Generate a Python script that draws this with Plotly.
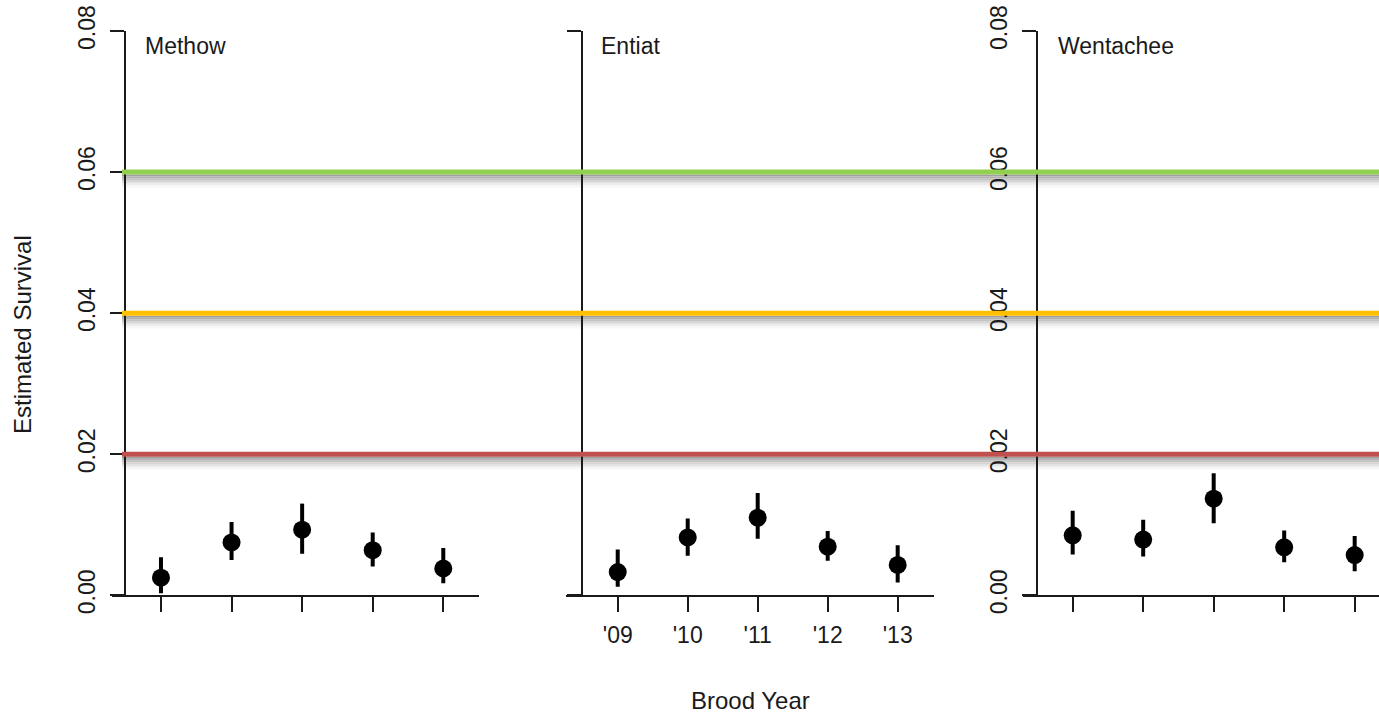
import plotly.graph_objects as go

# ---- data -------------------------------------------------------------
years = ["'09", "'10", "'11", "'12", "'13"]
year_pos = [1, 2, 3, 4, 5]

methow_est = [0.0025, 0.0075, 0.0093, 0.0064, 0.0038]
methow_lo = [0.0003, 0.0050, 0.0059, 0.0041, 0.0017]
methow_hi = [0.0054, 0.0104, 0.0130, 0.0089, 0.0067]

entiat_est = [0.0033, 0.0082, 0.0110, 0.0069, 0.0043]
entiat_lo = [0.0012, 0.0056, 0.0080, 0.0049, 0.0018]
entiat_hi = [0.0065, 0.0109, 0.0145, 0.0091, 0.0071]

wenatchee_est = [0.0085, 0.0079, 0.0137, 0.0068, 0.0057]
wenatchee_lo = [0.0058, 0.0055, 0.0102, 0.0047, 0.0034]
wenatchee_hi = [0.0120, 0.0107, 0.0173, 0.0092, 0.0084]

panel_names = ["Methow", "Entiat", "Wentachee"]

# survival benchmarks (value, colour)
benchmarks = [0.06, 0.04, 0.02]
benchmark_colors = ["#92D050", "#FFC000", "#C0504D"]

y_ticks = [0.00, 0.02, 0.04, 0.06, 0.08]

# ---- layout geometry (paper fractions for a 1379 x 714 canvas) --------
W, H = 1379, 714
FONT = "Liberation Sans, Arial, sans-serif"
px_per_unit = (595.3 - 31) / 0.08          # vertical pixels per survival unit

def px_x(p):
    return p / W

def px_y(p):
    return 1 - p / H

y_domain = [px_y(595.3), px_y(31)]
x_domains = [[px_x(112), px_x(479)], [px_x(566), px_x(934)], [px_x(1023), 1.0]]
x_ranges = [[0.306, 5.506], [0.261, 5.519], [0.295, 5.345]]
y_positions = [px_x(125), px_x(582), px_x(1037)]
title_x = [px_x(143), px_x(599), px_x(1056)]

series = [
    (methow_est, methow_lo, methow_hi),
    (entiat_est, entiat_lo, entiat_hi),
    (wenatchee_est, wenatchee_lo, wenatchee_hi),
]

fig = go.Figure()

for i, (est, lo, hi) in enumerate(series):
    sfx = "" if i == 0 else str(i + 1)
    fig.add_trace(go.Scatter(
        x=year_pos, y=est,
        xaxis="x" + sfx, yaxis="y" + sfx,
        mode="markers",
        marker=dict(color="black", size=18, line=dict(width=0)),
        error_y=dict(
            type="data", symmetric=False,
            array=[h - e for h, e in zip(hi, est)],
            arrayminus=[e - l for e, l in zip(est, lo)],
            color="black", thickness=4, width=0,
        ),
        showlegend=False,
        hoverinfo="skip",
    ))

axis_common = dict(
    showline=True, linecolor="#1a1a1a", linewidth=1.5,
    ticks="outside", tickcolor="#1a1a1a", tickwidth=1.5,
    showgrid=False, zeroline=False, automargin=False,
    tickfont=dict(family=FONT, size=23, color="#1a1a1a"),
)

layout = dict(
    width=W, height=H,
    margin=dict(l=0, r=0, t=0, b=0, pad=0, autoexpand=False),
    paper_bgcolor="white", plot_bgcolor="rgba(0,0,0,0)",
    font=dict(family=FONT, size=23, color="#1a1a1a"),
)

for i in range(3):
    sfx = "" if i == 0 else str(i + 1)
    layout["xaxis" + sfx] = dict(
        axis_common,
        domain=x_domains[i], range=x_ranges[i],
        anchor="y" + sfx,
        tickvals=year_pos, ticktext=years,
        ticklen=15,
        showticklabels=(i == 1),
        ticklabelstandoff=3,
    )
    layout["yaxis" + sfx] = dict(
        axis_common,
        domain=y_domain, range=[0, 0.08],
        anchor="free", position=y_positions[i],
        tickvals=y_ticks, tickformat=".2f",
        ticklen=14, tickangle=-90,
        showticklabels=(i != 1),
        ticklabelstandoff=6,
    )

# benchmark lines; the soft drop shadow sits beneath the axes
shadow_greys = ["#a0a0a0", "#b2b2b2", "#c4c4c4", "#d4d4d4", "#e2e2e2", "#eeeeee", "#f7f7f7"]
shapes = []
x_start = px_x(122)
for val, col in zip(benchmarks, benchmark_colors):
    for k, g in enumerate(shadow_greys):
        off = (3.5 + 1.8 * k) / px_per_unit
        shapes.append(dict(
            type="line", xref="paper", yref="y",
            x0=x_start, x1=1.0, y0=val - off, y1=val - off,
            line=dict(color=g, width=2), layer="below",
        ))
    shapes.append(dict(
        type="line", xref="paper", yref="y",
        x0=x_start, x1=1.0, y0=val, y1=val,
        line=dict(color=col, width=5), layer="above",
    ))
layout["shapes"] = shapes

annotations = []
for name, tx in zip(panel_names, title_x):
    annotations.append(dict(
        text=name, xref="paper", yref="paper",
        x=tx, y=px_y(46), xanchor="left", yanchor="middle",
        showarrow=False, font=dict(family=FONT, size=23, color="#1a1a1a"),
    ))
annotations.append(dict(
    text="Estimated Survival", xref="paper", yref="paper",
    x=px_x(22), y=px_y(335), xanchor="center", yanchor="middle",
    textangle=-90, showarrow=False,
    font=dict(family=FONT, size=24, color="#1a1a1a"),
))
annotations.append(dict(
    text="Brood Year", xref="paper", yref="paper",
    x=px_x(750), y=px_y(700), xanchor="center", yanchor="middle",
    showarrow=False, font=dict(family=FONT, size=24, color="#1a1a1a"),
))
layout["annotations"] = annotations

fig.update_layout(**layout)
fig.write_html("out.html")
